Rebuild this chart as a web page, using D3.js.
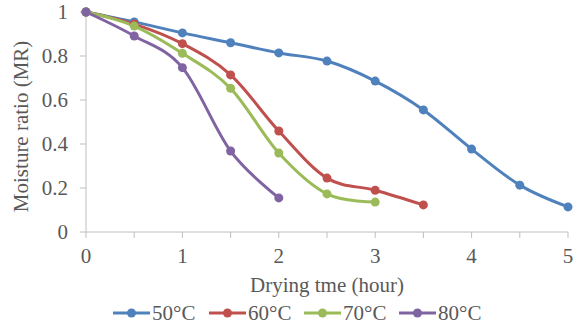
<!DOCTYPE html>
<html>
<head>
<meta charset="utf-8">
<script src="https://d3js.org/d3.v7.min.js"></script>
<style>
  body { margin:0; background:#fff; }
  text { font-family: "Liberation Serif", "Times New Roman", serif; fill:#595959; }
</style>
</head>
<body>
<svg id="chart" width="578" height="327"></svg>
<script>
    // drying time (hour) for each temperature
    const seriesNames = ["50°C", "60°C", "70°C", "80°C"];
    const colors = ["#4F81BD", "#C0504D", "#9BBB59", "#8064A2"];
    const t50 = [0, 0.5, 1, 1.5, 2, 2.5, 3, 3.5, 4, 4.5, 5];
    const mr50 = [1, 0.955, 0.905, 0.86, 0.814, 0.777, 0.686, 0.555, 0.377, 0.213, 0.114];
    const t60 = [0, 0.5, 1, 1.5, 2, 2.5, 3, 3.5];
    const mr60 = [1, 0.945, 0.856, 0.714, 0.459, 0.245, 0.19, 0.123];
    const t70 = [0, 0.5, 1, 1.5, 2, 2.5, 3];
    const mr70 = [1, 0.936, 0.812, 0.653, 0.359, 0.173, 0.136];
    const t80 = [0, 0.5, 1, 1.5, 2];
    const mr80 = [1, 0.891, 0.747, 0.368, 0.155];
    const xTicks = [0, 1, 2, 3, 4, 5];
    const yTicks = [0, 0.2, 0.4, 0.6, 0.8, 1];

    const series = [[t50, mr50], [t60, mr60], [t70, mr70], [t80, mr80]]
        .map((s, i) => ({name: seriesNames[i], color: colors[i],
                          pts: s[0].map((t, j) => [t, s[1][j]])}));

    const svg = d3.select("#chart");
    const x = d3.scaleLinear().domain([0, 5]).range([86, 568]);
    const y = d3.scaleLinear().domain([0, 1]).range([232, 12]);
    const axisColor = "#BFBFBF";
    const fs = "21px";

    // axes
    svg.append("line").attr("x1", x(0)).attr("x2", x(5)).attr("y1", y(0)).attr("y2", y(0))
        .attr("stroke", axisColor);
    svg.append("line").attr("x1", x(0)).attr("x2", x(0)).attr("y1", y(0)).attr("y2", y(1))
        .attr("stroke", axisColor);

    svg.selectAll(".xt").data(d3.range(0, 5.01, 0.5)).join("line")
        .attr("x1", d => x(d)).attr("x2", d => x(d))
        .attr("y1", y(0)).attr("y2", y(0) + 6).attr("stroke", axisColor);
    svg.selectAll(".yt").data(yTicks).join("line")
        .attr("x1", x(0) - 6).attr("x2", x(0))
        .attr("y1", d => y(d)).attr("y2", d => y(d)).attr("stroke", axisColor);

    svg.selectAll(".xl").data(xTicks).join("text")
        .attr("x", d => x(d)).attr("y", 263)
        .attr("text-anchor", "middle").style("font-size", fs)
        .text(d => d);
    svg.selectAll(".yl").data(yTicks).join("text")
        .attr("x", 68).attr("y", d => y(d) + 7)
        .attr("text-anchor", "end").style("font-size", fs)
        .text(d => d);

    svg.append("text").attr("x", x(2.5)).attr("y", 292)
        .attr("text-anchor", "middle").style("font-size", fs)
        .text("Drying tme (hour)");
    svg.append("text").attr("transform", `translate(28,${y(0.48)}) rotate(-90)`)
        .attr("text-anchor", "middle").style("font-size", fs)
        .text("Moisture ratio (MR)");

    // lines
    const line = d3.line().x(d => x(d[0])).y(d => y(d[1])).curve(d3.curveCardinal.tension(0));
    const g = svg.append("g");
    series.forEach(s => {
        g.append("path").attr("d", line(s.pts)).attr("fill", "none")
            .attr("stroke", s.color).attr("stroke-width", 3);
    });
    series.forEach(s => {
        g.selectAll(null).data(s.pts).join("circle")
            .attr("cx", d => x(d[0])).attr("cy", d => y(d[1])).attr("r", 4.5)
            .attr("fill", s.color);
    });

    // legend
    const legendX = [113, 209, 304, 399];
    series.forEach((s, i) => {
        const lg = svg.append("g").attr("transform", `translate(${legendX[i]},313)`);
        lg.append("line").attr("x1", 0).attr("x2", 37).attr("stroke", s.color).attr("stroke-width", 3);
        lg.append("circle").attr("cx", 18.5).attr("r", 4.5).attr("fill", s.color);
        lg.append("text").attr("x", 39).attr("y", 7).style("font-size", fs).text(s.name);
    });
</script>
</body>
</html>
